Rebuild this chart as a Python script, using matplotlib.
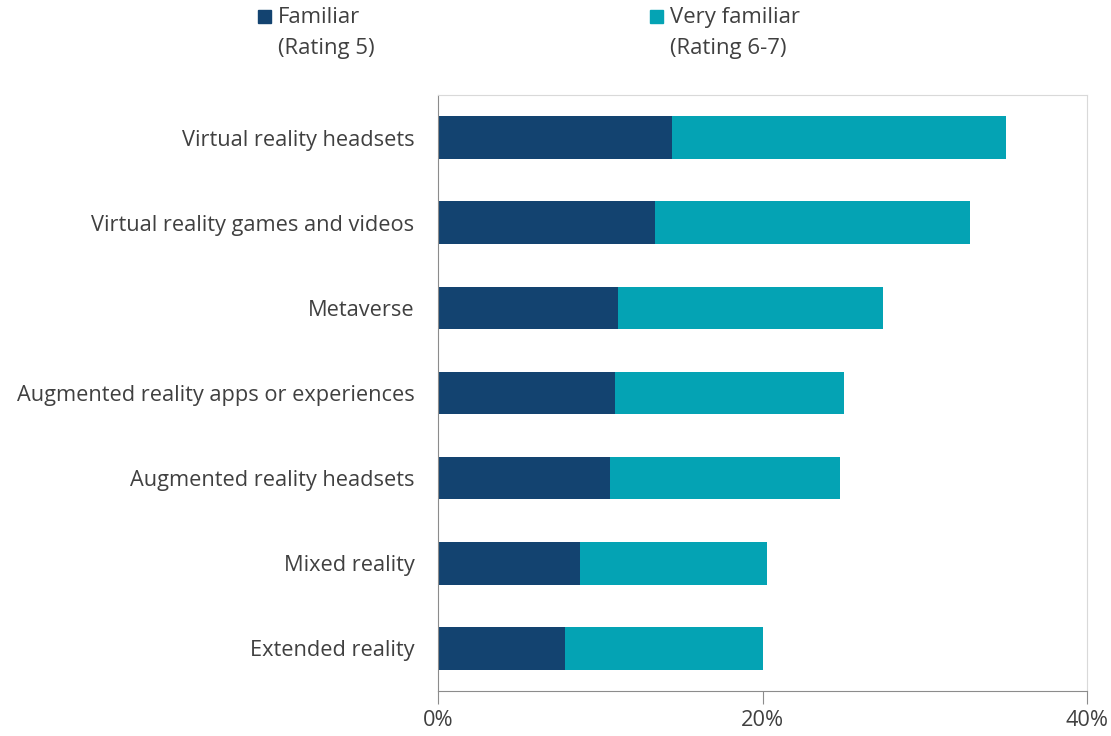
#!/usr/bin/env python3
"""
Familiarity with immersive technologies: stacked horizontal bars.
"""

import matplotlib
matplotlib.use("Agg")
import matplotlib.pyplot as plt
from matplotlib.patches import Rectangle
from matplotlib.ticker import FuncFormatter

categories = [
    "Virtual reality headsets",
    "Virtual reality games and videos",
    "Metaverse",
    "Augmented reality apps or experiences",
    "Augmented reality headsets",
    "Mixed reality",
    "Extended reality",
]
familiar = [14.4, 13.4, 11.1, 10.9, 10.6, 8.75, 7.8]
very_familiar = [20.6, 19.4, 16.3, 14.1, 14.2, 11.55, 12.2]
series_labels = ["Familiar\n(Rating 5)", "Very familiar\n(Rating 6-7)"]
x_ticks = [0, 20, 40]

DARK = "#134370"
TEAL = "#04A3B4"
TEXT = "#404040"

plt.rcParams["font.family"] = ["Open Sans", "DejaVu Sans"]

fig = plt.figure(figsize=(11.11, 7.36), dpi=100)
ax = fig.add_axes([438 / 1111, 1 - 691 / 736, 649 / 1111, 596 / 736])

ypos = list(range(len(categories)))
ax.barh(ypos, familiar, height=0.5, color=DARK)
ax.barh(ypos, very_familiar, left=familiar, height=0.5, color=TEAL)

ax.set_ylim(len(categories) - 0.5, -0.5)
ax.set_xlim(0, 40)
ax.set_yticks(ypos)
ax.set_yticklabels(categories, fontsize=15.7, color=TEXT)
ax.tick_params(axis="y", length=0, pad=17)
ax.set_xticks(x_ticks)
ax.xaxis.set_major_formatter(FuncFormatter(lambda v, _: f"{v:.0f}%"))
ax.tick_params(axis="x", length=9, color="#8c8c8c", labelsize=15.7,
               labelcolor=TEXT, pad=5, direction="out")

for side in ["left", "bottom"]:
    ax.spines[side].set_color("#8c8c8c")
for side in ["top", "right"]:
    ax.spines[side].set_color("#d9d9d9")

# legend drawn by hand so the marker sits next to the first line
legend_x = [258 / 1111, 650 / 1111]
for x0, lab, col in zip(legend_x, series_labels, [DARK, TEAL]):
    fig.patches.append(Rectangle((x0, 1 - 23 / 736), 13 / 1111, 13 / 736,
                                 transform=fig.transFigure, color=col))
    fig.text(x0 + 20 / 1111, 1 - 7 / 736, lab, fontsize=15.9, color=TEXT,
             va="top", ha="left", linespacing=1.62)

fig.savefig("out.png", dpi=100)
